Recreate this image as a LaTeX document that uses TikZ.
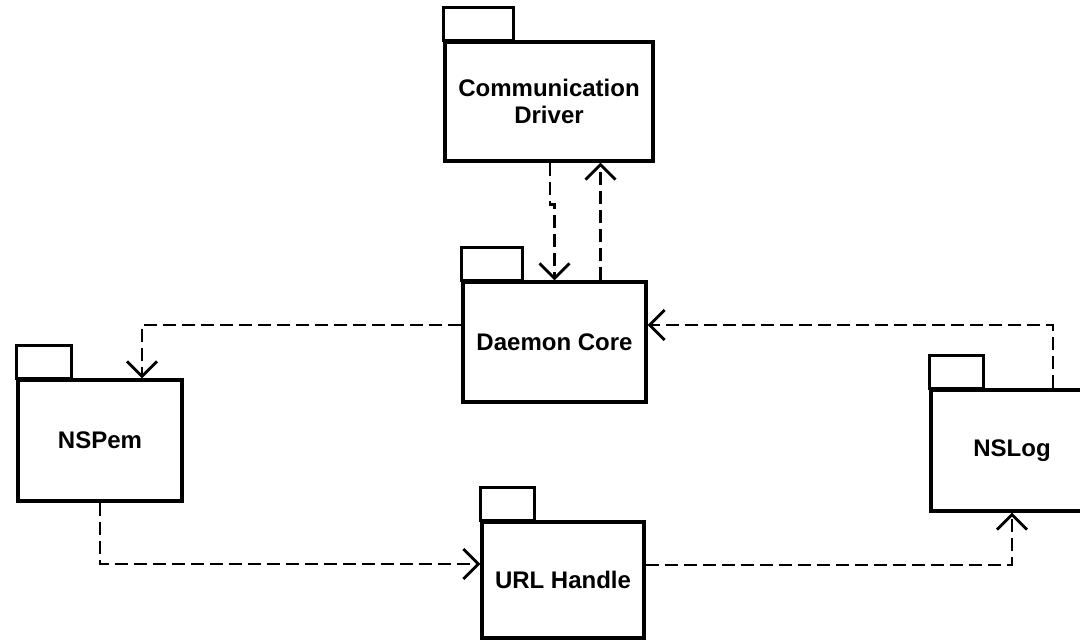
\documentclass[tikz,border=0pt]{standalone}
\usepackage{fontspec}
\setmainfont{Liberation Sans}
\usetikzlibrary{arrows.meta}

\tikzset{
  pkg/.style={draw, line width=1.6pt, inner sep=0pt, align=center,
    font=\bfseries\fontsize{12}{13.5}\selectfont},
  tab/.style={line width=1.6pt},
  dep/.style={line width=1.4pt, dash pattern=on 6.5pt off 3pt,
    -{Straight Barb[length=7.5pt,width=15pt]}}
}

\begin{document}
\begin{tikzpicture}[x=5pt,y=5pt]
        \useasboundingbox (0,0) rectangle (108,64);
        % package bodies
        \node[pkg, minimum width=104pt, minimum height=59.5pt] (comm) at (54.9,53.85) {Communication\\Driver};
        \node[pkg, minimum width=91.5pt, minimum height=60pt] (daemon) at (55.45,29.8) {Daemon Core};
        \node[pkg, minimum width=82pt, minimum height=60.5pt] (nspem) at (10,19.95) {NSPem};
        \node[pkg, minimum width=81pt, minimum height=58pt] (url) at (56.3,6) {URL Handle};
        \node[pkg, minimum width=81pt, minimum height=60.5pt] (nslog) at (101.2,18.95) {NSLog};
        % tabs on top
        \foreach \n/\w in {comm/7,daemon/6.1,nspem/5.5,url/5.4,nslog/5.4}
          \draw[tab] (\n.north west) rectangle ++(\w,3.3);
        % dependencies
        \draw[dep] ([xshift=0.5pt]comm.south) -- ++(0,-4.2) -| (daemon.north);
        \coordinate (up) at ([xshift=23pt]daemon.north);
        \draw[dep] (up) -- (up |- comm.south);
        \draw[dep] ([yshift=8.5pt]daemon.west) -| ([xshift=21pt]nspem.north);
        \draw[dep] (nspem.south) |- ([yshift=8pt]url.west);
        \draw[dep] ([yshift=7.5pt]url.east) -| (nslog.south);
        \draw[dep] ([xshift=20.5pt]nslog.north) |- ([yshift=8.5pt]daemon.east);
      \end{tikzpicture}
\end{document}
